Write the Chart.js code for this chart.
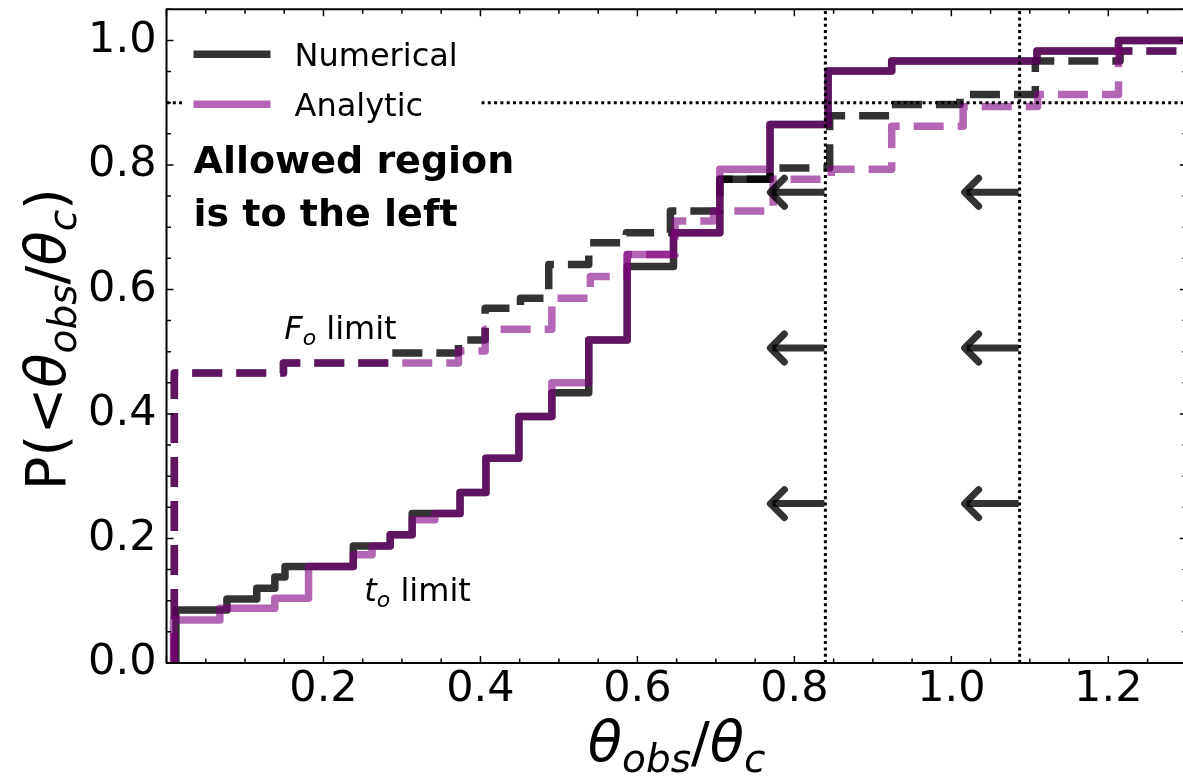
<!DOCTYPE html>
<html>
<head>
<meta charset="utf-8">
<script src="https://cdn.jsdelivr.net/npm/chart.js@4.4.1/dist/chart.umd.min.js"></script>
<style>
  html, body { margin: 0; padding: 0; background: #fff; overflow: hidden; }
  #wrap { width: 1190px; height: 776px; }
</style>
</head>
<body>
<div id="wrap"><canvas id="cdf" width="1190" height="776"></canvas></div>
<script>
(function () {
  'use strict';

  /* ---------------------------------------------------------- data
     each CDF is a staircase: x where it jumps, level reached after the jump */
  const NUM_TO_X = [0.012, 0.077, 0.115, 0.138, 0.151, 0.238, 0.285, 0.313, 0.374, 0.407, 0.449,
                    0.491, 0.538, 0.587, 0.646, 0.705, 0.769, 0.843, 0.924, 1.109, 1.213];
  const NUM_TO_Y = [0.085, 0.103, 0.120, 0.138, 0.155, 0.188, 0.206, 0.240, 0.274, 0.329, 0.396,
                    0.434, 0.519, 0.637, 0.691, 0.777, 0.865, 0.951, 0.967, 0.983, 1.000];

  const ANA_TO_X = [0.009, 0.068, 0.138, 0.181, 0.238, 0.262, 0.285, 0.313, 0.342, 0.374, 0.407,
                    0.449, 0.491, 0.538, 0.587, 0.646, 0.705, 0.769, 0.843, 0.924, 1.109, 1.213];
  const ANA_TO_Y = [0.069, 0.088, 0.104, 0.155, 0.174, 0.188, 0.206, 0.230, 0.240, 0.274, 0.329,
                    0.396, 0.450, 0.519, 0.656, 0.691, 0.793, 0.865, 0.951, 0.967, 0.983, 1.000];

  const NUM_FO_X = [0.010, 0.149, 0.285, 0.372, 0.406, 0.451, 0.487, 0.538, 0.586, 0.642, 0.705,
                    0.769, 0.845, 0.924, 1.011, 1.107, 1.215];
  const NUM_FO_Y = [0.466, 0.482, 0.498, 0.519, 0.570, 0.586, 0.640, 0.675, 0.691, 0.726, 0.777,
                    0.795, 0.879, 0.897, 0.913, 0.967, 0.983];

  const ANA_FO_X = [0.010, 0.149, 0.372, 0.406, 0.491, 0.540, 0.587, 0.648, 0.697, 0.773, 0.847,
                    0.924, 1.015, 1.110, 1.213];
  const ANA_FO_Y = [0.466, 0.482, 0.501, 0.536, 0.586, 0.621, 0.656, 0.710, 0.726, 0.777, 0.793,
                    0.862, 0.894, 0.913, 0.983];

  const LIMIT_X = [0.8395, 1.087];       // vertical dotted limits
  const LIMIT_P = 0.9;                   // horizontal dotted level
  const ARROW_Y = [0.756, 0.506, 0.256]; // arrows pointing left of each limit

  const X_RANGE = [0, 1.3];
  const Y_RANGE = [0, 1.05];
  const X_TICKS = [0.2, 0.4, 0.6, 0.8, 1.0, 1.2];
  const Y_TICKS = [0.0, 0.2, 0.4, 0.6, 0.8, 1.0];

  /* ---------------------------------------------------------- style */
  const DARK = 'rgba(0,0,0,0.8)';
  const PURP = 'rgba(128,0,128,0.6)';
  const FONT = '"DejaVu Sans", "Liberation Sans", sans-serif';
  const LW = 7.5;

  function steps(xs, ys) {
    const pts = [{ x: xs[0], y: 0 }];
    xs.forEach(function (x, i) { pts.push({ x: x, y: ys[i] }); });
    pts.push({ x: X_RANGE[1] + 0.05, y: ys[ys.length - 1] });
    return pts;
  }

  function stepSet(label, xs, ys, color, dashed, order) {
    return {
      label: label, data: steps(xs, ys), borderColor: color, borderWidth: LW,
      borderDash: dashed ? [30, 14] : [], borderCapStyle: 'butt', borderJoinStyle: 'round',
      stepped: 'before', pointRadius: 0, fill: false, order: order, clip: 0,
    };
  }

  function dotted(pts) {
    return {
      data: pts, borderColor: '#000', borderWidth: 3, borderDash: [3, 3.3],
      borderCapStyle: 'butt', pointRadius: 0, fill: false, order: 0, clip: 0,
    };
  }

  const datasets = [
    stepSet('Numerical', NUM_TO_X, NUM_TO_Y, DARK, false, 4),
    stepSet('Numerical F', NUM_FO_X, NUM_FO_Y, DARK, true, 3),
    stepSet('Analytic', ANA_TO_X, ANA_TO_Y, PURP, false, 2),
    stepSet('Analytic F', ANA_FO_X, ANA_FO_Y, PURP, true, 1),
    dotted([{ x: X_RANGE[0], y: LIMIT_P }, { x: X_RANGE[1], y: LIMIT_P }]),
  ].concat(LIMIT_X.map(function (lx) {
    return dotted([{ x: lx, y: Y_RANGE[0] }, { x: lx, y: Y_RANGE[1] }]);
  }));

  /* ---------------------------------------------------------- text helpers */
  // parts: [text, kind]  kind r = upright, i = italic, s = italic subscript
  function partFont(kind, size) {
    if (kind === 'r') return size + 'px ' + FONT;
    if (kind === 'i') return 'italic ' + size + 'px ' + FONT;
    return 'italic ' + Math.round(size * 0.7) + 'px ' + FONT;
  }
  function mathWidth(ctx, parts, size) {
    let w = 0;
    parts.forEach(function (p) { ctx.font = partFont(p[1], size); w += ctx.measureText(p[0]).width; });
    return w;
  }
  function mathDraw(ctx, parts, size, x0, base) {
    let x = x0;
    ctx.textBaseline = 'alphabetic';
    ctx.textAlign = 'left';
    parts.forEach(function (p) {
      ctx.font = partFont(p[1], size);
      ctx.fillText(p[0], x, p[1] === 's' ? base + size * 0.2 : base);
      x += ctx.measureText(p[0]).width;
    });
  }

  const X_TITLE = [['\u03b8', 'i'], ['obs', 's'], ['/', 'r'], ['\u03b8', 'i'], ['c', 's']];
  const Y_TITLE = [['P(<', 'r'], ['\u03b8', 'i'], ['obs', 's'], ['/', 'r'], ['\u03b8', 'i'], ['c', 's'], [')', 'r']];

  /* ---------------------------------------------------------- decorations */
  const decor = {
    id: 'decor',
    afterDatasetsDraw: function (chart) {
      const ctx = chart.ctx, a = chart.chartArea, sx = chart.scales.x, sy = chart.scales.y;
      ctx.save();

      // arrows "<-" to the left of each limit
      ctx.strokeStyle = DARK; ctx.lineWidth = 7; ctx.lineJoin = 'round';
      LIMIT_X.forEach(function (lx) {
        ARROW_Y.forEach(function (ay) {
          const end = sx.getPixelForValue(lx) - 1, tip = end - 54, py = sy.getPixelForValue(ay);
          ctx.lineCap = 'butt';
          ctx.beginPath(); ctx.moveTo(end, py); ctx.lineTo(tip + 2, py); ctx.stroke();
          ctx.lineCap = 'round';
          ctx.beginPath(); ctx.moveTo(tip + 14, py - 14); ctx.lineTo(tip, py); ctx.lineTo(tip + 14, py + 14); ctx.stroke();
        });
      });

      // spines
      ctx.strokeStyle = '#000'; ctx.lineWidth = 2; ctx.lineCap = 'butt';
      ctx.strokeRect(a.left, a.top, a.right - a.left, a.bottom - a.top);

      // inward ticks on all four sides, minor every 0.05
      ctx.lineWidth = 1.5;
      ctx.beginPath();
      for (let i = 0; i * 0.05 <= X_RANGE[1] + 1e-9; i++) {
        const px = sx.getPixelForValue(i * 0.05), len = i % 4 === 0 ? 7 : 4.5;
        ctx.moveTo(px, a.bottom); ctx.lineTo(px, a.bottom - len);
        ctx.moveTo(px, a.top); ctx.lineTo(px, a.top + len);
      }
      for (let j = 0; j * 0.05 <= Y_RANGE[1] + 1e-9; j++) {
        const py = sy.getPixelForValue(j * 0.05), len = j % 4 === 0 ? 7 : 4.5;
        ctx.moveTo(a.left, py); ctx.lineTo(a.left + len, py);
        ctx.moveTo(a.right, py); ctx.lineTo(a.right - len, py);
      }
      ctx.stroke();

      // legend (white frame hides the dotted line behind it)
      ctx.fillStyle = '#fff';
      ctx.fillRect(a.left + 16, a.top + 14, 298, 106);
      [['Numerical', DARK, 45], ['Analytic', PURP, 95]].forEach(function (e) {
        ctx.strokeStyle = e[1]; ctx.lineWidth = LW; ctx.lineCap = 'butt';
        ctx.beginPath(); ctx.moveTo(a.left + 27, a.top + e[2]); ctx.lineTo(a.left + 104, a.top + e[2]); ctx.stroke();
        ctx.fillStyle = '#000'; ctx.font = '32px ' + FONT; ctx.textBaseline = 'alphabetic'; ctx.textAlign = 'left';
        ctx.fillText(e[0], a.left + 128, a.top + e[2] + 12);
      });

      // annotation texts
      ctx.fillStyle = '#000';
      ctx.font = 'bold 38px ' + FONT;
      ctx.fillText('Allowed region', a.left + 27, a.top + 164);
      ctx.fillText('is to the left', a.left + 27, a.top + 217);
      mathDraw(ctx, [['F', 'i'], ['o', 's'], [' limit', 'r']], 32, sx.getPixelForValue(0.150), sy.getPixelForValue(0.521));
      mathDraw(ctx, [['t', 'i'], ['o', 's'], [' limit', 'r']], 32, sx.getPixelForValue(0.252), sy.getPixelForValue(0.0995));

      ctx.restore();
    },
    afterDraw: function (chart) {
      const ctx = chart.ctx, a = chart.chartArea;
      ctx.save();
      ctx.fillStyle = '#000';
      const size = 56;
      const wx = mathWidth(ctx, X_TITLE, size);
      mathDraw(ctx, X_TITLE, size, (a.left + a.right) / 2 - wx / 2, 761);
      // y title centred on the axis, as matplotlib does
      const wy = mathWidth(ctx, Y_TITLE, size);
      ctx.translate(65, (a.top + a.bottom) / 2 + 3);
      ctx.rotate(-Math.PI / 2);
      mathDraw(ctx, Y_TITLE, size, -wy / 2, 0);
      ctx.restore();
    },
  };

  function noEdgePad(s) {
    s.paddingTop = 0; s.paddingBottom = 0; s.paddingLeft = 0; s.paddingRight = 0;
  }

  /* ---------------------------------------------------------- chart */
  new Chart(document.getElementById('cdf'), {
    type: 'line',
    data: { datasets: datasets },
    options: {
      responsive: false, animation: false, devicePixelRatio: 1,
      layout: { padding: { top: 9.3, right: 3.2, left: 0, bottom: 0 } },
      plugins: { legend: { display: false }, tooltip: { enabled: false } },
      scales: {
        x: {
          type: 'linear', min: X_RANGE[0], max: X_RANGE[1],
          grid: { display: false, drawTicks: false }, border: { display: false },
          afterBuildTicks: function (s) { s.ticks = X_TICKS.map(function (v) { return { value: v }; }); },
          afterFit: function (s) { s.height = 113; noEdgePad(s); },
          ticks: { color: '#000', padding: 1, maxRotation: 0, font: { family: FONT, size: 43 },
                   callback: function (v) { return v.toFixed(1); } },
        },
        y: {
          type: 'linear', min: Y_RANGE[0], max: Y_RANGE[1],
          grid: { display: false, drawTicks: false }, border: { display: false },
          afterBuildTicks: function (s) { s.ticks = Y_TICKS.map(function (v) { return { value: v }; }); },
          afterFit: function (s) { s.width = 166.5; noEdgePad(s); },
          ticks: { color: '#000', padding: 10, font: { family: FONT, size: 43 },
                   callback: function (v) { return v.toFixed(1); } },
        },
      },
    },
    plugins: [decor],
  });
})();
</script>
</body>
</html>
